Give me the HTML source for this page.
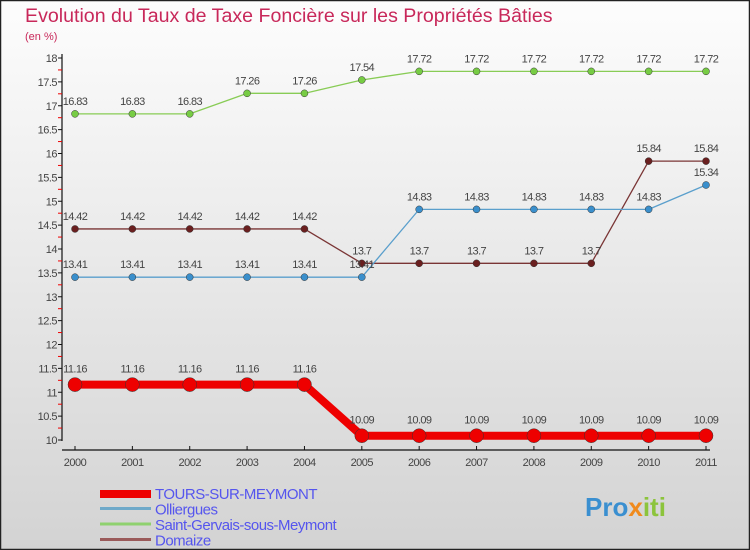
<!DOCTYPE html>
<html><head><meta charset="utf-8"><style>
body{margin:0;width:750px;height:550px;overflow:hidden;font-family:"Liberation Sans",sans-serif}
svg{display:block}
</style></head><body>
<svg id="chart" width="750" height="550" viewBox="0 0 750 550" xmlns="http://www.w3.org/2000/svg">
<defs><linearGradient id="bg" x1="0" y1="0" x2="0" y2="1"><stop offset="0" stop-color="#fdfdfd"/><stop offset="1" stop-color="#d3d3d3"/></linearGradient></defs>
<rect x="0.5" y="0.5" width="749" height="549" fill="url(#bg)" stroke="#222" stroke-width="1.5"/>
<text x="25" y="22" font-size="19.6" fill="#c8285a">Evolution du Taux de Taxe Foncière sur les Propriétés Bâties</text>
<text x="25" y="40" font-size="11" fill="#c8285a">(en %)</text>
<g id="axes"></g><g id="series"></g><g id="legend"></g>
<text x="585" y="516" font-size="26" font-weight="bold" fill="#3a8fd0">Pro<tspan fill="#f08a1c">x</tspan><tspan fill="#8cc43c">iti</tspan></text>
</svg>
<script>
const years=[2000,2001,2002,2003,2004,2005,2006,2007,2008,2009,2010,2011];
const yTicks=[10,10.5,11,11.5,12,12.5,13,13.5,14,14.5,15,15.5,16,16.5,17,17.5,18];
const seriesNames=["TOURS-SUR-MEYMONT","Olliergues","Saint-Gervais-sous-Meymont","Domaize"];
const tours=[11.16,11.16,11.16,11.16,11.16,10.09,10.09,10.09,10.09,10.09,10.09,10.09];
const olliergues=[13.41,13.41,13.41,13.41,13.41,13.41,14.83,14.83,14.83,14.83,14.83,15.34];
const saintGervais=[16.83,16.83,16.83,17.26,17.26,17.54,17.72,17.72,17.72,17.72,17.72,17.72];
const domaize=[14.42,14.42,14.42,14.42,14.42,13.7,13.7,13.7,13.7,13.7,15.84,15.84];
const NS="http://www.w3.org/2000/svg";
const x=i=>75+i*(706-75)/(years.length-1);
const y=v=>440-(v-10)*(440-58)/8;
function mk(tag,attrs,parent,txt){const e=document.createElementNS(NS,tag);for(const k in attrs)e.setAttribute(k,attrs[k]);if(txt!==undefined)e.textContent=txt;parent.appendChild(e);return e;}
const axes=document.getElementById('axes');
let e=mk('line',{x1:62,y1:54,x2:62,y2:441,stroke:'#111','stroke-width':1.2},axes);

e=mk('line',{x1:62,y1:450,x2:710,y2:450,stroke:'#111','stroke-width':1.2},axes);

yTicks.forEach((v,i)=>{
  mk('line',{x1:58,y1:y(v),x2:62,y2:y(v),stroke:'#111'},axes);
  if(i<yTicks.length-1)mk('line',{x1:58,y1:y(v+0.25),x2:62,y2:y(v+0.25),stroke:'#e00'},axes);
  e=mk('text',{x:57,y:y(v)+4,'font-size':11,fill:'#444','text-anchor':'end','letter-spacing':'-0.5'},axes,String(v));
  
});
years.forEach((yr,i)=>{
  mk('line',{x1:x(i),y1:446,x2:x(i),y2:450,stroke:'#111'},axes);
  e=mk('text',{x:x(i),y:466,'font-size':11,fill:'#444','text-anchor':'middle','letter-spacing':'-0.5'},axes,String(yr));
  
});
const sg=document.getElementById('series');
function draw(vals,color,dot,w,r,name){
  const g=mk('g',{},sg);
  
  const p=mk('polyline',{points:vals.map((v,i)=>x(i)+','+y(v)).join(' '),fill:'none',stroke:color,'stroke-width':w,'stroke-linejoin':'round'},g);
  
  vals.forEach((v,i)=>{
    const c=mk('circle',{cx:x(i),cy:y(v),r:r,fill:dot,stroke:'#333','stroke-width':0.5},g);
    
    const t=mk('text',{x:x(i),y:y(v)-(w>3?12:9),'font-size':11,fill:'#444','text-anchor':'middle','letter-spacing':'-0.6'},g,String(v));
    
  });
}
draw(saintGervais,'#88cc55','#77cc44',1.3,3.5,'saint-gervais');
draw(domaize,'#7a3535','#6a1f1f',1.3,3.5,'domaize');
draw(olliergues,'#5a9fcc','#3a8fcc',1.3,3.5,'olliergues');
draw(tours,'#ee0000','#ee0000',8,7,'tours');
const lg=document.getElementById('legend');
const lc=[['#ee0000',8],['#6fa9c9',3],['#8fd16f',3],['#9a5a5a',3]];
seriesNames.forEach((n,i)=>{
  const yy=493+i*15.5;
  e=mk('line',{x1:100,y1:yy+(i==0?1:0),x2:151,y2:yy+(i==0?1:0),stroke:lc[i][0],'stroke-width':lc[i][1]},lg);
  
  e=mk('text',{x:155,y:yy+6,'font-size':15,fill:'#5555ee','letter-spacing':'-0.5'},lg,n);
  
});
</script>
</body></html>
